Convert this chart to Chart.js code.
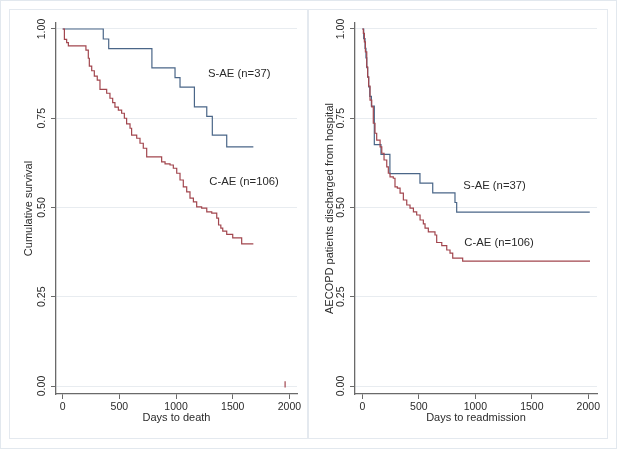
<!DOCTYPE html>
<html>
<head>
<meta charset="utf-8">
<script src="https://cdn.jsdelivr.net/npm/chart.js@4.4.1/dist/chart.umd.min.js"></script>
<style>
html,body{margin:0;padding:0;background:#fff;}
#wrap{position:relative;width:619px;height:450px;overflow:hidden;background:#fff;}
.frame{position:absolute;border:1px solid #e4e9ef;box-sizing:border-box;}
canvas{position:absolute;top:0;}
</style>
</head>
<body>
<div id="wrap">
  <div class="frame" style="left:0;top:0;width:617px;height:449px;border-color:#e2e8ee"></div>
  <div class="frame" style="left:9px;top:9px;width:299px;height:430px"></div>
  <div class="frame" style="left:308px;top:9px;width:300px;height:430px"></div>
  <canvas id="c1" width="310" height="450" style="left:0"></canvas>
  <canvas id="c2" width="309" height="450" style="left:310px"></canvas>
</div>
<script>
// ---------- data ----------
const xTickValues = [0, 500, 1000, 1500, 2000];
const yTickValues = [0, 0.25, 0.5, 0.75, 1];
const yTickLabels = ['0.00', '0.25', '0.50', '0.75', '1.00'];
const seriesLabels = ['S-AE (n=37)', 'C-AE (n=106)'];

// Left panel: survival (days to death)
const deathDaysSAE = [0, 358, 406, 787, 991, 1035, 1162, 1271, 1320, 1447, 1682];
const deathSurvSAE = [1.0, 0.972, 0.945, 0.891, 0.864, 0.837, 0.782, 0.755, 0.703, 0.670, 0.670];

const deathDaysCAE = [0, 15, 35, 50, 205, 226, 235, 256, 279, 305, 329, 388, 417, 441, 461, 491, 520, 544, 564, 594,
  608, 653, 682, 711, 741, 873, 903, 947, 976, 1006, 1035, 1064, 1094, 1123, 1153, 1182, 1226, 1271, 1315, 1359,
  1375, 1395, 1412, 1447, 1500, 1579, 1682];
const deathSurvCAE = [1.0, 0.971, 0.962, 0.953, 0.941, 0.918, 0.896, 0.883, 0.868, 0.857, 0.831, 0.820, 0.806, 0.794, 0.781, 0.773, 0.764, 0.750, 0.734, 0.722,
  0.703, 0.694, 0.680, 0.666, 0.642, 0.628, 0.622, 0.619, 0.610, 0.596, 0.577, 0.558, 0.544, 0.526, 0.516, 0.502, 0.498, 0.488, 0.484, 0.470,
  0.451, 0.442, 0.434, 0.425, 0.415, 0.398, 0.398];

// small red mark near the x-axis in the left panel
const deathMarkDays = [1962, 1962];
const deathMarkSurv = [-0.004, 0.013];

// Right panel: readmission
const readmDaysSAE = [0, 12, 24, 32, 39, 47, 56, 66, 80, 106, 165, 244, 510, 623, 820, 835, 2013];
const readmSurvSAE = [1.0, 0.973, 0.946, 0.919, 0.892, 0.865, 0.838, 0.811, 0.784, 0.676, 0.649, 0.595, 0.568, 0.541, 0.514, 0.487, 0.487];

const readmDaysCAE = [0, 9, 18, 27, 39, 47, 56, 68, 83, 97, 112, 127, 157, 172, 192, 216, 230, 245, 274, 289, 310, 334,
  363, 393, 422, 452, 481, 511, 540, 555, 584, 643, 658, 703, 747, 776, 800, 888, 2015];
const readmSurvCAE = [1.0, 0.988, 0.964, 0.936, 0.894, 0.866, 0.840, 0.801, 0.782, 0.736, 0.708, 0.689, 0.670, 0.652, 0.633, 0.614, 0.596, 0.586, 0.582, 0.558, 0.554, 0.540,
  0.521, 0.507, 0.498, 0.488, 0.479, 0.465, 0.454, 0.442, 0.432, 0.423, 0.402, 0.393, 0.381, 0.372, 0.358, 0.350, 0.350];

// ---------- styling ----------
const FONT = '"Liberation Sans", Arial, Helvetica, sans-serif';
const BLUE = '#4a6688';
const RED = '#a2464e';
const TEXT = '#2b2b2b';
const AXIS = '#6a6a6a';
const GRID = '#e8ecf0';

function pts(xs, ys) { return xs.map((x, i) => ({ x: x, y: ys[i] })); }

const textPlugin = {
  id: 'texts',
  afterDraw(chart, args, o) {
    const ctx = chart.ctx, xs = chart.scales.x, ys = chart.scales.y;
    ctx.save();
    ctx.fillStyle = TEXT;
    ctx.textAlign = 'center';
    ctx.textBaseline = 'middle';
    // y tick labels (rotated)
    ctx.font = '10.5px ' + FONT;
    yTickValues.forEach((v, i) => {
      const y = ys.getPixelForValue(v);
      ctx.save();
      ctx.translate(o.tickX, y);
      ctx.rotate(-Math.PI / 2);
      ctx.fillText(yTickLabels[i], 0, 0);
      ctx.restore();
    });
    // axis titles
    ctx.font = '11px ' + FONT;
    const cy = (chart.chartArea.top + chart.chartArea.bottom) / 2;
    ctx.save();
    ctx.translate(o.titleX, cy);
    ctx.rotate(-Math.PI / 2);
    ctx.fillText(o.yTitle, 0, 0);
    ctx.restore();
    ctx.fillText(o.xTitle, (chart.chartArea.left + chart.chartArea.right) / 2, o.xTitleY);
    // series labels
    ctx.textAlign = 'left';
    ctx.font = '11.3px ' + FONT;
    o.notes.forEach(n => {
      ctx.fillText(n.text, xs.getPixelForValue(n.x), ys.getPixelForValue(n.y));
    });
    ctx.restore();
  }
};

function makeChart(id, cfg) {
  const datasets = cfg.series.map(s => ({
    data: pts(s.xs, s.ys),
    borderColor: s.color,
    borderWidth: 1.2,
    stepped: s.stepped === false ? false : true,
    pointRadius: 0,
    fill: false,
    tension: 0
  }));
  return new Chart(document.getElementById(id), {
    type: 'line',
    data: { datasets: datasets },
    options: {
      responsive: false,
      animation: false,
      devicePixelRatio: 1,
      layout: { padding: { left: 0, top: 23, right: cfg.padRight, bottom: 0 } },
      plugins: {
        legend: { display: false },
        tooltip: { enabled: false },
        texts: cfg.texts
      },
      scales: {
        x: {
          type: 'linear',
          min: cfg.xMin, max: cfg.xMax,
          afterBuildTicks: s => { s.ticks = xTickValues.map(v => ({ value: v })); },
          afterFit: s => { s.height = 56; },
          grid: { drawOnChartArea: false, drawTicks: true, tickLength: 5, tickColor: AXIS, tickWidth: 1 },
          border: { display: true, color: AXIS, width: 1.3 },
          ticks: { font: { family: FONT, size: 10.5 }, color: TEXT, padding: 2, maxRotation: 0, autoSkip: false,
                   callback: v => String(v) }
        },
        y: {
          type: 'linear',
          min: -0.0224, max: 1.0168,
          afterBuildTicks: s => { s.ticks = yTickValues.map(v => ({ value: v })); },
          afterFit: s => { s.width = cfg.yWidth; },
          grid: { color: GRID, lineWidth: 1, drawTicks: true, tickLength: 5, tickColor: AXIS, tickWidth: 1 },
          border: { display: true, color: AXIS, width: 1.3 },
          ticks: { display: false }
        }
      }
    },
    plugins: [textPlugin]
  });
}

makeChart('c1', {
  xMin: -59, xMax: 2067, padRight: 13, yWidth: 56,
  series: [
    { xs: deathDaysCAE, ys: deathSurvCAE, color: RED },
    { xs: deathDaysSAE, ys: deathSurvSAE, color: BLUE },
    { xs: deathMarkDays, ys: deathMarkSurv, color: RED, stepped: false }
  ],
  texts: {
    tickX: 42, titleX: 29, xTitleY: 418,
    yTitle: 'Cumulative survival', xTitle: 'Days to death',
    notes: [ { text: seriesLabels[0], x: 1282, y: 0.874 }, { text: seriesLabels[1], x: 1294, y: 0.571 } ]
  }
});

makeChart('c2', {
  xMin: -65, xMax: 2077, padRight: 22, yWidth: 45,
  series: [
    { xs: readmDaysCAE, ys: readmSurvCAE, color: RED },
    { xs: readmDaysSAE, ys: readmSurvSAE, color: BLUE }
  ],
  texts: {
    tickX: 31, titleX: 20, xTitleY: 418,
    yTitle: 'AECOPD patients discharged from hospital', xTitle: 'Days to readmission',
    notes: [ { text: seriesLabels[0], x: 894, y: 0.561 }, { text: seriesLabels[1], x: 903, y: 0.402 } ]
  }
});
</script>
</body>
</html>
